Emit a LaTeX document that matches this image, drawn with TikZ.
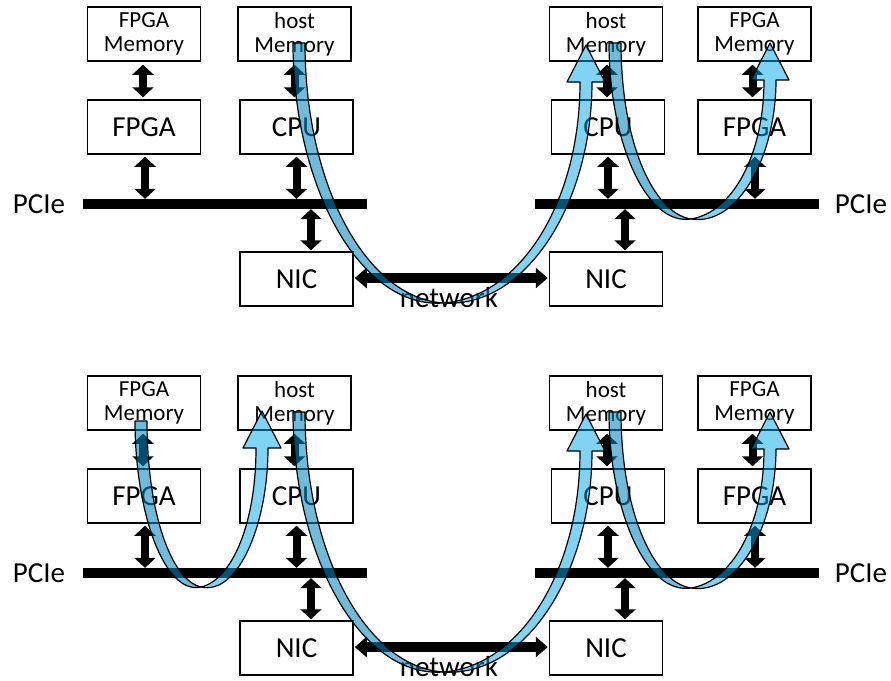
\documentclass[tikz,border=0pt]{standalone}
\usepackage{fontspec}
\setmainfont{Carlito}
\usetikzlibrary{arrows.meta,calc}

\definecolor{bandlight}{RGB}{0,168,232}
\definecolor{banddark}{RGB}{0,135,190}

% Curved ribbon arrow: a darker descending strip and a lighter rising strip
% with an arrowhead, the two strips crossing at the bottom point.
% #1 left x of descending strip, #2 its top y, #3/#4 bottom crossing point,
% #5 arrowhead centre x, #6 arrowhead base y, #7 arrowhead tip y
\newcommand{\bendarrow}[7]{%
  \pgfmathsetmacro\bxL{#1}%
  \pgfmathsetmacro\byT{#2}%
  \pgfmathsetmacro\bPx{#3}%
  \pgfmathsetmacro\bPy{#4}%
  \pgfmathsetmacro\bxH{#5}%
  \pgfmathsetmacro\byB{#6}%
  \pgfmathsetmacro\byTip{#7}%
  \pgfmathsetmacro\bth{12}%
  \pgfmathsetmacro\bhw{19}%
  \pgfmathsetmacro\bk{0.5523}%
  \pgfmathsetmacro\bs{0.5*\bth*(\bPy-\byT)/(\bPx-\bxL)/(\bPx-\bxL)}%
  \pgfmathsetmacro\aL{\bk*(\bPx-\bxL)}%
  \pgfmathsetmacro\bL{\bk*(\bPx-\bxL-\bth)}%
  \pgfmathsetmacro\cL{\bk*(\bxH-0.5*\bth-\bPx)}%
  \pgfmathsetmacro\dL{\bk*(\bxH+0.5*\bth-\bPx)}%
  \filldraw[darkband] (\bxL,\byT)
    .. controls (\bxL,{\byT+\bk*(\bPy-\byT)}) and ({\bPx-\aL},{\bPy+\bs*\aL}) .. (\bPx,\bPy)
    .. controls ({\bPx-\bL},{\bPy-\bs*\bL}) and ({\bxL+\bth},{\byT+\bk*(\bPy-\byT)}) .. ({\bxL+\bth},\byT)
    -- cycle;
  \filldraw[lightband] (\bPx,\bPy)
    .. controls ({\bPx+\cL},{\bPy-\bs*\cL}) and ({\bxH-0.5*\bth},{\byB+\bk*(\bPy-\byB)}) .. ({\bxH-0.5*\bth},\byB)
    -- ({\bxH-\bhw},\byB) -- (\bxH,\byTip) -- ({\bxH+\bhw},\byB) -- ({\bxH+0.5*\bth},\byB)
    .. controls ({\bxH+0.5*\bth},{\byB+\bk*(\bPy-\byB)}) and ({\bPx+\dL},{\bPy+\bs*\dL}) .. (\bPx,\bPy)
    -- cycle;
}

\begin{document}
\begin{tikzpicture}[x=1pt,y=-1pt,
  box/.style={draw, line width=1.5pt, minimum width=113pt, minimum height=54pt,
    inner sep=0pt, align=center, font=\fontsize{29}{30}\selectfont},
  membox/.style={box, font=\fontsize{23}{24}\selectfont},
  bus/.style={fill=black, minimum width=284pt, minimum height=10pt, inner sep=0pt},
  lbl/.style={inner sep=0pt, font=\fontsize{29}{30}\selectfont},
  biarrow/.style={line width=8pt, {Triangle[width=21pt,length=10pt]}-{Triangle[width=21pt,length=10pt]}},
  netarrow/.style={line width=10pt, {Triangle[width=20pt,length=12pt]}-{Triangle[width=20pt,length=12pt]}},
  darkband/.style={fill=banddark, fill opacity=0.57, draw=black, line width=1.2pt, line join=round},
  lightband/.style={fill=bandlight, fill opacity=0.5, draw=black, line width=1.2pt, line join=round}]
\useasboundingbox (0,0) rectangle (891,680);

\foreach \s/\dy in {t/0,b/369}{
  \begin{scope}[yshift=-\dy pt]
    % left host
    \node[membox] (fmemL\s) at (144,34) {FPGA\\Memory};
    \node[membox] (hmemL\s) at (294.5,34) {host\\Memory};
    \node[box] (fpgaL\s) at (144,127) {FPGA};
    \node[box] (cpuL\s) at (296.5,127) {CPU};
    \node[box] (nicL\s) at (296.5,279) {NIC};
    \node[bus] (pcieL\s) at (225,204) {};
    \node[lbl] (pcielblL\s) at (39,204) {PCIe};
    % right host
    \node[membox] (hmemR\s) at (606,34) {host\\Memory};
    \node[membox] (fmemR\s) at (754.5,34) {FPGA\\Memory};
    \node[box] (cpuR\s) at (608,127) {CPU};
    \node[box] (fpgaR\s) at (754.5,127) {FPGA};
    \node[box] (nicR\s) at (606,279) {NIC};
    \node[bus] (pcieR\s) at (677,204) {};
    \node[lbl] (pcielblR\s) at (861,204) {PCIe};
    % network between the NICs
    \node[lbl] (netlbl\s) at (449,298) {network};
    \draw[netarrow] ($(nicL\s.east)+(1,-1)$) -- ($(nicR\s.west)+(-1,-1)$);
    % local links
    \draw[biarrow] ($(fmemL\s.south)+(-1,3)$) -- ($(fpgaL\s.north)+(-1,-2)$);
    \draw[biarrow] ($(hmemL\s.south)+(0,3)$) -- ($(cpuL\s.north)+(-2,-2)$);
    \draw[biarrow] ($(fpgaL\s.south)+(1,2)$) -- ($(fpgaL\s.south |- pcieL\s.north)+(1,0)$);
    \draw[biarrow] ($(cpuL\s.south)+(0,2)$) -- ($(cpuL\s.south |- pcieL\s.north)+(0,0)$);
    \draw[biarrow] ($(nicL\s.north |- pcieL\s.south)+(14.5,0)$) -- ($(nicL\s.north)+(14.5,-1)$);
    \draw[biarrow] ($(hmemR\s.south)+(1,3)$) -- ($(cpuR\s.north)+(-1,-2)$);
    \draw[biarrow] ($(fmemR\s.south)+(-2,3)$) -- ($(fpgaR\s.north)+(-2,-2)$);
    \draw[biarrow] ($(cpuR\s.south)+(0,2)$) -- ($(cpuR\s.south |- pcieR\s.north)+(0,0)$);
    \draw[biarrow] ($(fpgaR\s.south)+(0.5,2)$) -- ($(fpgaR\s.south |- pcieR\s.north)+(0.5,0)$);
    \draw[biarrow] ($(nicR\s.north |- pcieR\s.south)+(19,0)$) -- ($(nicR\s.north)+(19,-1)$);
  \end{scope}
}

% data paths, upper case
\bendarrow{293}{43}{443}{303}{586}{82}{45}
\bendarrow{609}{43}{691}{219}{770}{80}{43}
% data paths, lower case
\bendarrow{135}{421}{201}{587}{262}{448}{411}
\bendarrow{293}{412}{443}{672}{586}{451}{414}
\bendarrow{609}{412}{691}{588}{770}{449}{412}
\end{tikzpicture}
\end{document}
